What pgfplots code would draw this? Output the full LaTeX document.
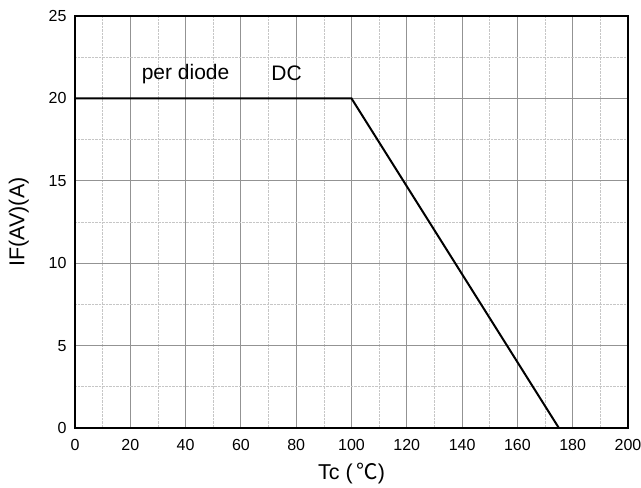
\documentclass[border=0pt]{standalone}
\usepackage{pgfplots}
\pgfplotsset{compat=1.18}
\usepackage{fontspec}
\setmainfont{Liberation Sans}
\newfontfamily\cjk{Noto Sans CJK SC}
\begin{document}
\begin{tikzpicture}
\begin{axis}[name=ax,
  width=553pt, height=412pt, scale only axis,
  xmin=0, xmax=200, ymin=0, ymax=25,
  xtick={0,20,...,200}, ytick={0,5,...,25},
  minor x tick num=1, minor y tick num=1,
  major tick length=0pt, minor tick length=0pt,
  grid=both,
  major grid style={gray!85, line width=0.8pt},
  minor grid style={gray!45, densely dotted, line width=0.6pt},
  axis line style={black, line width=1.6pt},
  /pgf/number format/assume math mode=true,
  tick label style={font=\fontsize{16}{18}\selectfont},
  xticklabel style={yshift=-8pt},
  yticklabel style={xshift=-5pt},
  xlabel={Tc (\,{\cjk ℃})}, ylabel={IF(AV)(A)},
  label style={font=\fontsize{21.5}{24}\selectfont},
  xlabel style={yshift=-5pt},
  ylabel style={yshift=13pt},
]
\addplot[black, line width=2pt] coordinates {(0,20) (100,20) (175,0)};
\node[font=\fontsize{21}{24}\selectfont] at (axis cs:40,21.5) {per diode};
\node[font=\fontsize{21}{24}\selectfont] at (axis cs:76.5,21.5) {DC};
\end{axis}
\pgfresetboundingbox
\path (ax.south west) ++(-75pt,-60pt) coordinate (a);
\path (ax.north east) ++(13pt,16pt) coordinate (b);
\path (a) rectangle (b);
\end{tikzpicture}
\end{document}
